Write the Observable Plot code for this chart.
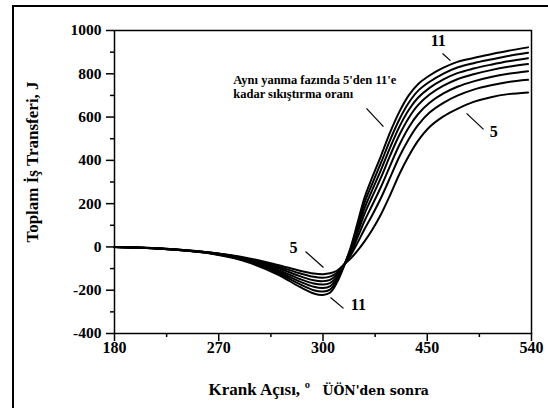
<!DOCTYPE html>
<html>
<head>
<meta charset="utf-8">
<script src="https://cdn.jsdelivr.net/npm/d3@7"></script>
<script src="https://cdn.jsdelivr.net/npm/@observablehq/plot@0.6"></script>
<style>
  html, body { margin: 0; padding: 0; background: white; }
  #wrap { position: relative; width: 548px; height: 408px; overflow: hidden; }
  #border { position: absolute; left: 12px; top: 5px; width: 600px; height: 500px;
            border-left: 2px solid black; border-top: 2px solid black; pointer-events: none; }
</style>
</head>
<body>
<div id="wrap"><div id="chart"></div><div id="border"></div></div>
<script>
// Crank angle samples (degrees after BDC)
const angles = [180,220,260,290,320,340,352,360,366,372,378,384,390,396,402,410,418,426,434,442,452,464,476,490,505,520,537];
// Total work transfer (J) per compression ratio
const cr5  = [0,-7,-24,-46,-82,-110,-123,-126,-122,-110,-82,-53,-16,27,75,150,240,337,420,490,554,603,638,670,692,706,714];
const cr6  = [0,-7,-25,-49,-89,-122,-138,-142,-137,-119,-83,-38,21,84,142,226,321,418,498,563,621,666,699,727,747,762,772];
const cr7  = [0,-7,-25,-51,-96,-135,-154,-158,-152,-128,-85,-28,46,122,188,277,376,472,552,613,666,709,740,765,785,800,812];
const cr8  = [0,-8,-26,-54,-104,-148,-169,-174,-167,-138,-86,-20,67,155,226,320,423,518,596,655,704,745,775,798,817,832,845];
const cr9  = [0,-8,-27,-57,-111,-160,-184,-190,-182,-147,-87,-13,84,181,257,355,460,556,633,689,735,774,803,824,842,858,872];
const cr10 = [0,-8,-27,-59,-118,-172,-200,-206,-197,-156,-89,-6,99,206,286,388,495,590,666,721,763,801,829,849,866,882,897];
const cr11 = [0,-8,-28,-62,-125,-185,-215,-222,-212,-165,-90,0,115,230,315,420,530,625,700,752,792,828,855,873,890,906,922];
const seriesNames = ["5","6","7","8","9","10","11"];
const seriesValues = [cr5, cr6, cr7, cr8, cr9, cr10, cr11];

// Axis ticks
const xTickValues = [180,270,360,450,540];
const xTickLabels = ["180","270","300","450","540"];
const xMinorTicks = [225,315,405,495];
const yTickValues = [-400,-200,0,200,400,600,800,1000];
const yMinorTicks = [-300,-100,100,300,500,700,900];

// Texts
const yTitle = "Toplam İş Transferi, J";
const xTitleMain = "Krank Açısı,";
const xTitleDeg = "º";
const xTitleSub = "ÜÖN'den sonra";
const noteLines = ["Aynı yanma fazında 5'den 11'e", "kadar sıkıştırma oranı"];
const labelTexts = [
  {x: 459.5, y: 950, t: "11"},
  {x: 507.5, y: 533, t: "5"},
  {x: 334.5, y: -3, t: "5"},
  {x: 390.5, y: -270, t: "11"}
];
const leaders = [
  {x1: 463.2, y1: 894, x2: 470, y2: 861},
  {x1: 397.5, y1: 640, x2: 412.2, y2: 556},
  {x1: 483.9, y1: 617, x2: 498.6, y2: 543},
  {x1: 344.9, y1: -21, x2: 360.4, y2: -95},
  {x1: 366.5, y1: -234, x2: 377.7, y2: -284}
];

const rows = [];
seriesValues.forEach((vals, i) => vals.forEach((v, j) => rows.push({cr: seriesNames[i], angle: angles[j], w: v})));

const serif = "'Liberation Serif', 'Times New Roman', serif";

const chart = Plot.plot({
  width: 548,
  height: 408,
  marginLeft: 114,
  marginRight: 17,
  marginTop: 30,
  marginBottom: 75,
  style: {fontFamily: serif, background: "transparent", color: "black", overflow: "visible"},
  x: {domain: [180, 540]},
  y: {domain: [-400, 1000]},
  marks: [
    Plot.frame({stroke: "black", strokeWidth: 1.5}),
    Plot.axisX({ticks: xTickValues, tickSize: 8, tickPadding: 0, tickFormat: (d) => xTickLabels[xTickValues.indexOf(d)],
      fontSize: 16, fontWeight: "bold", fontFamily: serif, label: null, strokeWidth: 1.5}),
    Plot.axisX({ticks: xMinorTicks, tickSize: 4, text: null, label: null, strokeWidth: 1.5}),
    Plot.axisY({ticks: yTickValues, tickSize: 8, tickPadding: 5, tickFormat: (d) => String(d),
      fontSize: 15.5, fontWeight: "bold", fontFamily: serif, label: null, strokeWidth: 1.5}),
    Plot.axisY({ticks: yMinorTicks, tickSize: 4, text: null, label: null, strokeWidth: 1.5}),
    Plot.line(rows, {x: "angle", y: "w", z: "cr", stroke: "black", strokeWidth: 2, curve: "catmull-rom"}),
    Plot.link(leaders, {x1: "x1", y1: "y1", x2: "x2", y2: "y2", stroke: "black", strokeWidth: 1.2}),
    Plot.text(labelTexts, {x: "x", y: "y", text: "t", fontSize: 16, fontWeight: "bold", fontFamily: serif, fill: "black"}),
    Plot.text([noteLines.join("\n")], {x: 282.5, y: 739, text: (d) => d, textAnchor: "start", lineAnchor: "middle", lineHeight: 1.12, fontSize: 12.5, fontWeight: "bold", fontFamily: serif, fill: "black"}),
    Plot.text([yTitle], {frameAnchor: "left", textAnchor: "middle", lineAnchor: "middle", rotate: -90, dx: -82, dy: -20, text: (d) => d, fontSize: 17, fontWeight: "bold", fontFamily: serif, fill: "black"}),
    Plot.text([xTitleMain], {frameAnchor: "bottom", textAnchor: "start", lineAnchor: "bottom", dx: -114.5, dy: 61, text: (d) => d, fontSize: 17, fontWeight: "bold", fontFamily: serif, fill: "black"}),
    Plot.text([xTitleDeg], {frameAnchor: "bottom", textAnchor: "middle", lineAnchor: "bottom", dx: -15.5, dy: 60, text: (d) => d, fontSize: 16, fontWeight: "bold", fontFamily: serif, fill: "black"}),
    Plot.text([xTitleSub], {frameAnchor: "bottom", textAnchor: "start", lineAnchor: "bottom", dx: -0.5, dy: 61, text: (d) => d, fontSize: 12.5, fontWeight: "bold", fontFamily: "'DejaVu Serif', serif", fill: "black"})
  ]
});
document.getElementById("chart").appendChild(chart);
</script>
</body>
</html>
